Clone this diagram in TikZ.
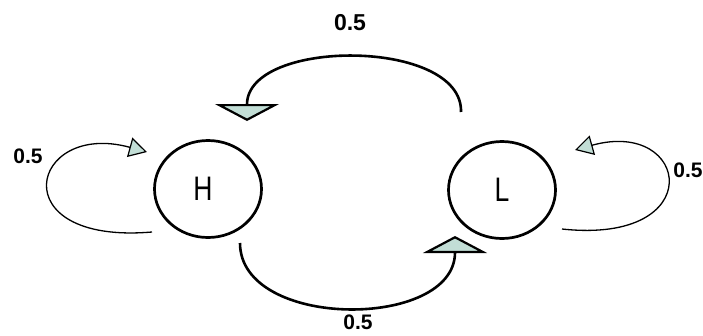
\documentclass[tikz,border=0pt]{standalone}
\usepackage{fontspec}
\setmainfont{Liberation Sans}
\usetikzlibrary{shapes.geometric,arrows.meta}
\definecolor{tipfill}{HTML}{C2DED6}
\tikzset{
  state/.style={draw=black, line width=2.7pt, ellipse, minimum width=107pt, minimum height=97pt, inner sep=0pt, font=\fontsize{34}{34}\selectfont},
  bigarc/.style={line width=2.6pt, -{Triangle[length=17pt,width=64pt,fill=tipfill,line width=2.2pt]}},
  loop/.style={line width=1.3pt, -{Triangle[length=18pt,width=20pt,fill=tipfill,line width=1.2pt]}},
  prob/.style={font=\fontsize{21}{21}\selectfont\bfseries, inner sep=0pt}
}
\begin{document}
\begin{tikzpicture}[x=1pt,y=-1pt]
\useasboundingbox (0,0) rectangle (703,335);
\node[state] (H) at (208,189) {\hspace{-10pt}\scalebox{0.78}[1]{H}};
\node[state] (L) at (502,190) {\scalebox{0.78}[1]{L}};
% named connector ends
\coordinate (tS) at (461,112);
\coordinate (tE) at (247,121);
\coordinate (bS) at (240,243);
\coordinate (bE) at (455,236);
\coordinate (hS) at (152,232);
\coordinate (hE) at (147,152);
\coordinate (lS) at (562,229);
\coordinate (lE) at (575,150);
% L -> H (top)
\draw[bigarc] (tS) .. controls (463,38) and (247,38) .. (tE);
% H -> L (bottom)
\draw[bigarc] (bS) .. controls (240,330) and (455,330) .. (bE);
% self loops
\draw[loop] (hS) .. controls (0,245) and (30,120) .. (hE);
\draw[loop] (lS) .. controls (710,245) and (690,118) .. (lE);
% labels
\node[prob, font=\fontsize{23}{23}\selectfont\bfseries] (p1) at (350,23) {0.5};
\node[prob] (p2) at (358,322) {0.5};
\node[prob] (p3) at (28,156) {0.5};
\node[prob] (p4) at (688,170) {0.5};
\end{tikzpicture}
\end{document}
